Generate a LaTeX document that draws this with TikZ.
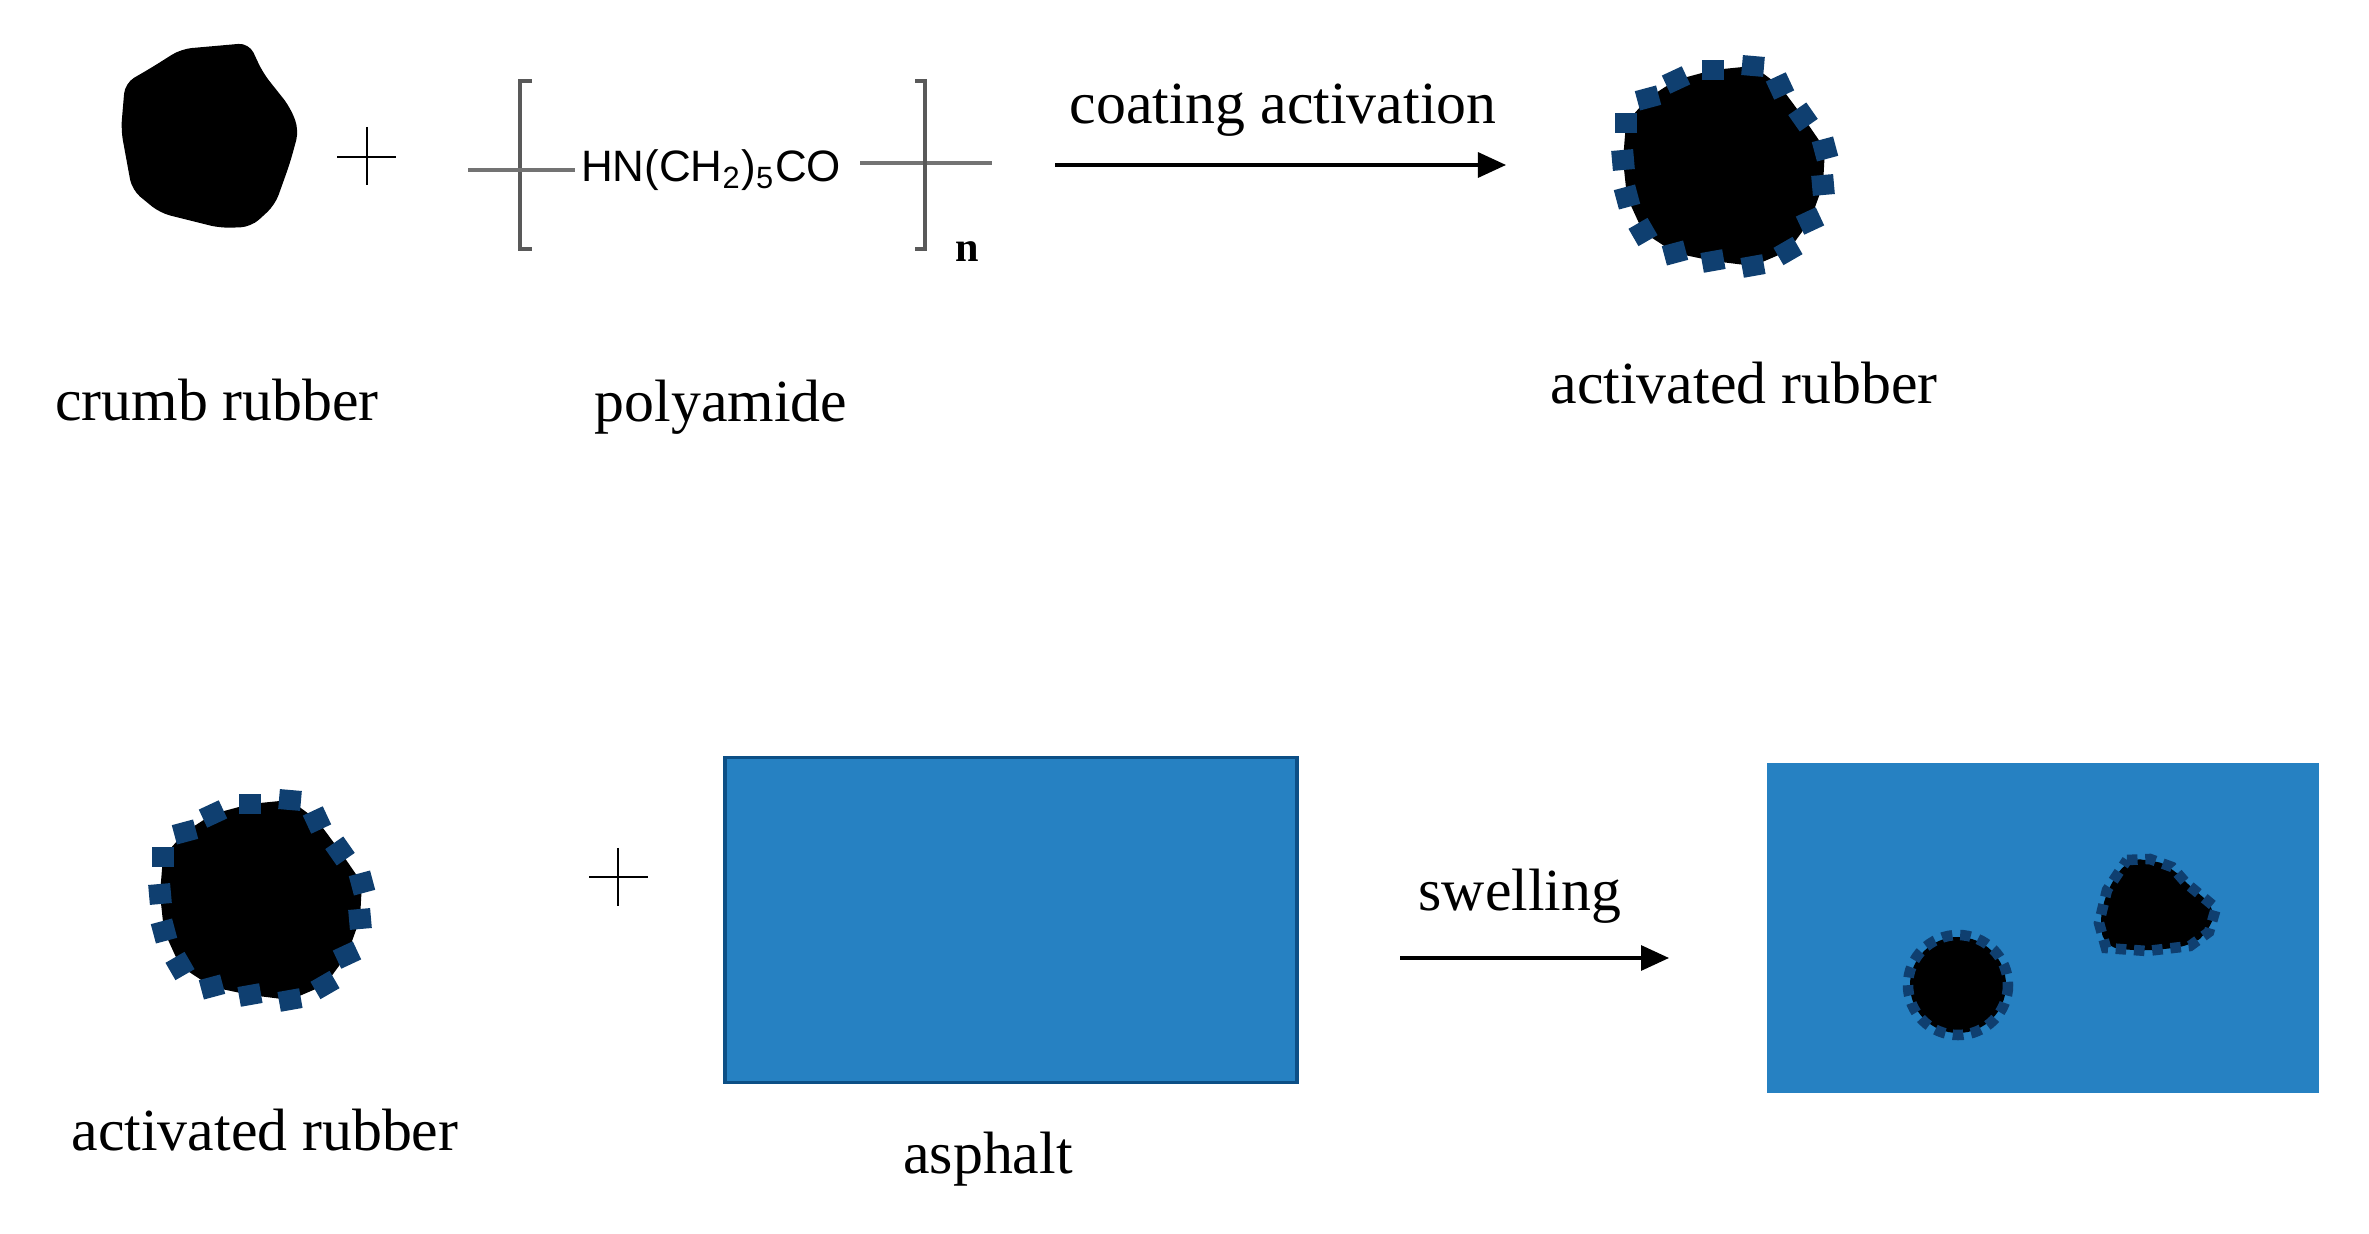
\documentclass[tikz,border=0pt]{standalone}
\usepackage{fontspec}
\setmainfont{Liberation Serif}
\newfontfamily\chemfont{Liberation Sans}
\usetikzlibrary{arrows.meta,positioning,calc}
\definecolor{asphaltblue}{HTML}{2681C2}
\definecolor{asphaltedge}{HTML}{0C4F86}
\definecolor{coatblue}{HTML}{0F3F70}
\tikzset{
    caption/.style={font=\fontsize{17}{20}\selectfont, inner sep=0pt},
    bracketline/.style={draw=black!65, line width=1pt},
    stemline/.style={draw=black!55, line width=1.2pt},
    plussign/.style={draw=black, line width=0.8pt},
    reactarrow/.style={-{Triangle[length=2.8mm,width=2.5mm]}, line width=0.9pt},
    coatdash/.style={draw=coatblue, line width=3pt, dash pattern=on 3pt off 2.2pt},
    coatsquare/.style={fill=coatblue}
}
% coated rubber grain, drawn round the current origin
\newcommand{\coatedgrain}{%
  \fill[black, rounded corners=3] (-7,-93) -- (33,-97) -- (60,-77) -- (83,-46) -- (105,-14) -- (103,22) -- (90,58)
    -- (68,88) -- (33,103) -- (-7,98) -- (-45,90) -- (-77,69) -- (-93,34) -- (-97,-3)
    -- (-94,-40) -- (-72,-65) -- (-44,-83) -- cycle;
  \foreach \px/\py/\ang in {-7/-93/0, 33/-97/-5, 60/-77/25, 83/-46/35, 105/-14/15, 103/22/5,
      90/58/25, 68/88/30, 33/103/10, -7/98/10, -45/90/15, -77/69/30, -93/34/15, -97/-3/5,
      -94/-40/0, -72/-65/15, -44/-83/25}
    \fill[coatsquare, rotate around={\ang:(\px,\py)}] (\px-11,\py-10) rectangle (\px+11,\py+10);
}
\begin{document}
\begin{tikzpicture}[x=0.01cm,y=-0.01cm]
\useasboundingbox (0,0) rectangle (2369,1234);
% top row
\fill[black, rounded corners=3] (249,43) -- (181,49) -- (151,68) -- (125,83) -- (121,130) -- (132,190) -- (160,213)
  -- (220,228) -- (251,227) -- (275,205) -- (290,163) -- (299,130) -- (290,107) -- (263,73) -- cycle;
\draw[plussign] (337,157) -- (396,157) (367,127) -- (367,185);
\node[caption] (crumb) at (217,400) {crumb rubber};
\draw[bracketline] (532,81) -- (520,81) -- (520,249) -- (532,249);
\draw[stemline] (468,170) -- (575,170);
\node[inner sep=0pt, font=\chemfont\fontsize{12.5}{15}\selectfont] (unit) at (711,170) {HN(CH\textsubscript{2})\textsubscript{5}CO};
\draw[stemline] (860,163) -- (992,163);
\draw[bracketline] (915,81) -- (925,81) -- (925,249) -- (915,249);
\node[inner sep=0pt, font=\bfseries\fontsize{12}{14}\selectfont] (rep) at (967,252) {n};
\node[caption] (polyamide) at (721,407) {polyamide};
\coordinate (coatfrom) at (1055,165);
\coordinate (coatto) at (1506,165);
\draw[reactarrow] (coatfrom) -- (coatto);
\node[caption] (coating) at (1283,110) {coating activation};
\begin{scope}[shift={(1720,163)}]
\coatedgrain
\end{scope}
\node[caption] (activatedtop) at (1744,383) {activated rubber};
% bottom row
\begin{scope}[shift={(257,897)}]
\coatedgrain
\end{scope}
\node[caption] (activatedbot) at (265,1130) {activated rubber};
\draw[plussign] (589,877) -- (648,877) (618,848) -- (618,906);
\node[draw=asphaltedge, fill=asphaltblue, line width=1pt, minimum width=5.72cm, minimum height=3.25cm, inner sep=0pt] (asphalt) at (1011,920) {};
\node[caption] (asphaltcap) at (988,1159) {asphalt};
\coordinate (swellfrom) at (1400,958);
\coordinate (swellto) at (1669,958);
\draw[reactarrow] (swellfrom) -- (swellto);
\node[caption] (swelling) at (1520,896) {swelling};
\node[fill=asphaltblue, minimum width=5.51cm, minimum height=3.29cm, inner sep=0pt] (swollen) at (2043,928) {};
\fill[black] (1958,985) circle (48);
\draw[coatdash] (1958,985) circle (50);
\fill[black, rounded corners=4] (2127,860) -- (2150,859) -- (2172,867) -- (2186,883) -- (2216,908) -- (2209,932) -- (2190,946)
  -- (2147,951) -- (2106,948) -- (2099,923) -- (2107,890) -- cycle;
\draw[coatdash] (2127,860) -- (2150,859) -- (2172,867) -- (2186,883) -- (2216,908) -- (2209,932) -- (2190,946)
  -- (2147,951) -- (2106,948) -- (2099,923) -- (2107,890) -- cycle;
\end{tikzpicture}
\end{document}
